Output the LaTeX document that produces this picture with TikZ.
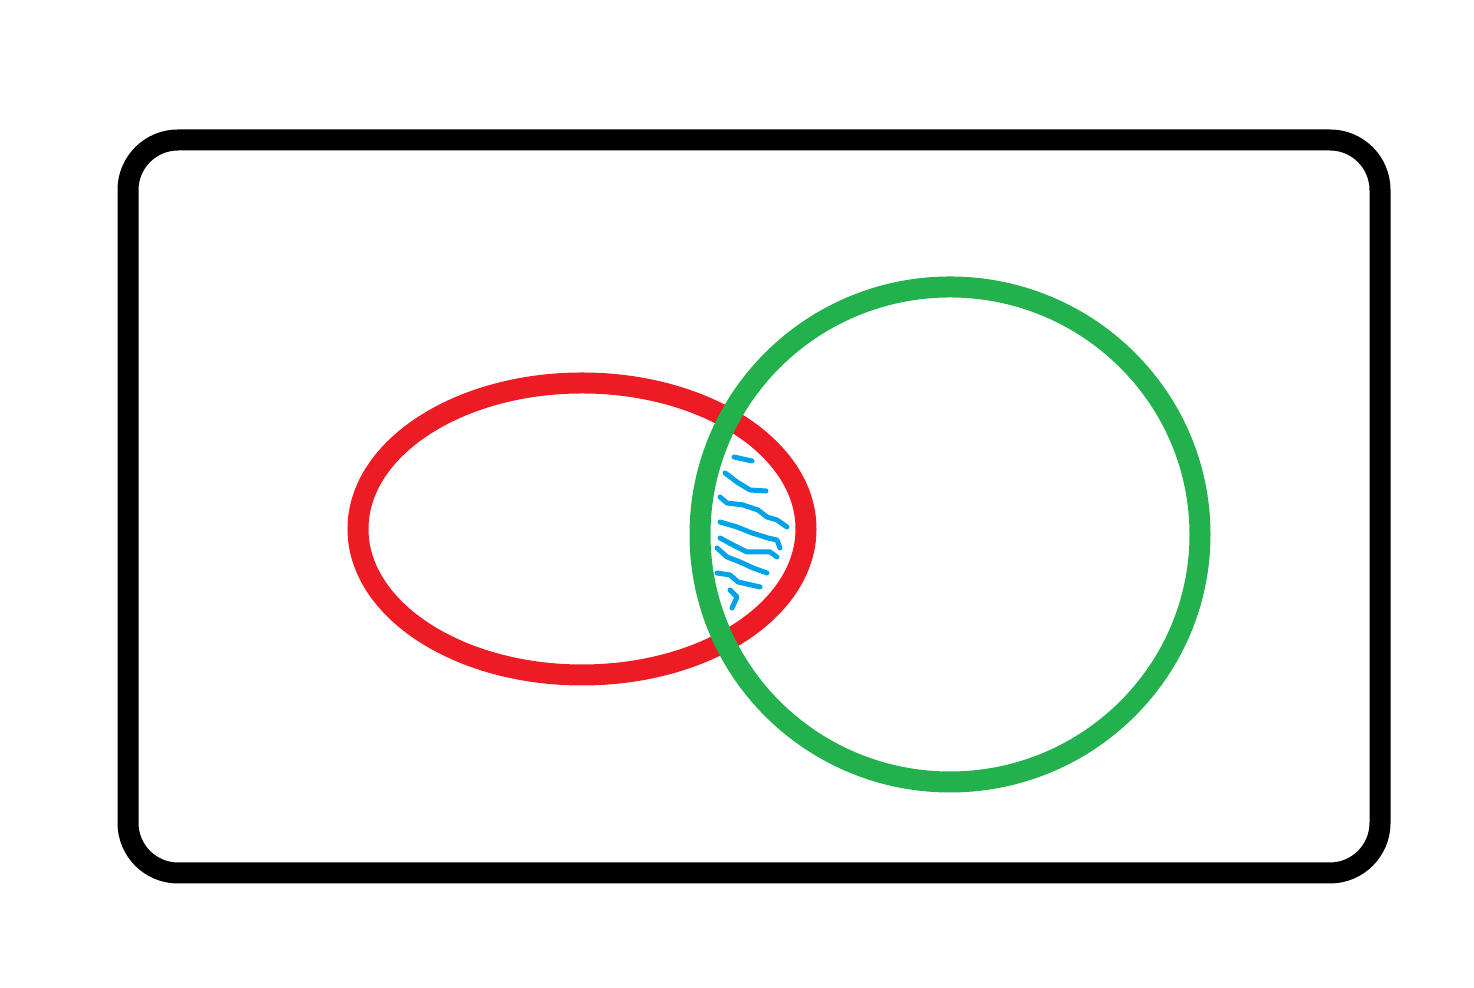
\documentclass[tikz,border=0pt]{standalone}
\usepackage{xcolor}
\usepackage{tikz}
\definecolor{setred}{RGB}{237,28,36}
\definecolor{setgreen}{RGB}{34,177,76}
\definecolor{hatchblue}{RGB}{0,162,232}

\begin{document}
\begin{tikzpicture}[line width=0.21cm,
  hatch/.style={hatchblue,line width=0.05cm,line cap=round,line join=round}]
\useasboundingbox(0,0)rectangle(14.74,9.88);
\coordinate(U1)at(1.28,1.15);
\coordinate(U2)at(13.80,8.48);
\coordinate(A)at(5.82,4.59);
\coordinate(B)at(9.50,4.535);
\draw[rounded corners=0.5cm](U1)rectangle(U2);
\draw[setred](A)ellipse[x radius=2.24cm,y radius=1.46cm];
\draw[setgreen](B)ellipse[x radius=2.50cm,y radius=2.475cm];
% shading of the overlap
\draw[hatch](7.34,5.31)--(7.52,5.27);
\draw[hatch](7.25,5.15)--(7.37,5.06)--(7.50,4.98)--(7.66,4.97);
\draw[hatch](7.20,4.91)--(7.27,4.85)--(7.43,4.83)--(7.58,4.78)--(7.67,4.71)--(7.77,4.68)--(7.87,4.61);
\draw[hatch](7.20,4.66)--(7.37,4.61)--(7.52,4.55)--(7.68,4.50)--(7.77,4.48)--(7.80,4.40);
\draw[hatch](7.20,4.50)--(7.33,4.43)--(7.47,4.36)--(7.70,4.36)--(7.77,4.31);
\draw[hatch](7.17,4.40)--(7.27,4.31)--(7.40,4.26)--(7.53,4.20)--(7.67,4.15);
\draw[hatch](7.17,4.15)--(7.30,4.13)--(7.38,4.06)--(7.60,4.01);
\draw[hatch](7.30,3.98)--(7.37,3.91)--(7.32,3.80);
\end{tikzpicture}
\end{document}
